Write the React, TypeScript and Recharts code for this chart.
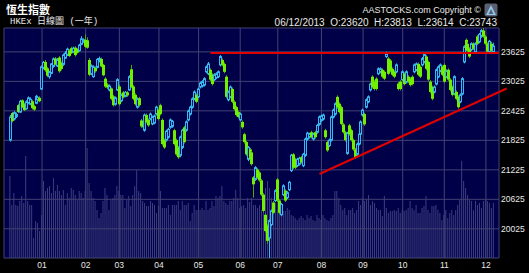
import React from 'react';
import { ComposedChart, Bar, XAxis, YAxis, CartesianGrid, ReferenceLine } from 'recharts';

// 恆生指數 日線 (06/12/2012 - 06/12/2013)
const opens = [
  21830, 22380, 22260, 22310, 22540, 22400, 22640, 22560, 22470, 22580, 22560, 22620, 22520, 22580, 22650, 22690,
  22870, 23290, 23420, 23290, 23120, 23190, 23330, 23490, 23340, 23510, 23400, 23370, 23500, 23560, 23650, 23700, 23620, 23710, 23680, 23650, 23780, 23830, 23870, 23860,
  23460, 23180, 23120, 23300, 23310, 23430, 23480, 23360, 23080, 22960, 22850, 22880, 22720, 22560, 22850, 22920, 22630, 22800, 22720, 22800,
  22850, 23270, 22920, 22750, 22500, 22680, 22230, 22170, 22030, 22340, 22240, 22260, 22160, 22180, 22360, 22440, 22540, 22240, 21830, 21830,
  21890, 22090, 22110, 22030, 21830, 21680, 21520, 21680, 22090, 22030, 22240, 22360, 22500, 22670, 22750, 22710, 22910, 22930, 22950, 23220,
  23180, 23260, 23160, 23060, 23100, 23120, 23360, 23460, 23380, 23120, 22650, 22710, 22870, 22610, 22500, 22400, 22240, 22200, 21950, 21790,
  21440, 21640, 21580, 21070, 21030, 21230, 21170, 21010, 20720, 20310, 20090, 19840, 20110, 20560, 20600, 21030, 20600, 20310, 20720, 20800,
  20660, 20820, 21210, 21540, 21440, 21310, 21340, 21480, 21310, 21520, 21850, 21890, 21990, 21850, 21990, 21990, 22150, 22230, 22260, 22030,
  21790, 21720, 21830, 22300, 22360, 22710, 22570, 22500, 22150, 21990, 21560, 22130, 22030, 21830, 21640, 21540, 21750, 21950, 22340, 22360,
  22500, 22610, 22850, 23120, 23020, 23080, 23180, 23220, 23260, 23220, 23530, 23490, 23450, 23280, 23220, 23220, 22980, 23020, 23060, 23180,
  23010, 23120, 23080, 23120, 23220, 23260, 23380, 23320, 23360, 23420, 23530, 23420, 23020, 22910, 22810, 22970, 23120, 23240, 23320, 23360,
  23120, 23260, 23060, 22910, 22770, 22810, 22710, 22610, 22770, 23420, 23870, 23790, 23690, 23670, 23790, 23630, 23940, 23830, 23940, 24060,
  23940, 23790, 23630, 23790, 23620,
];
const highs = [
  22340, 22400, 22420, 22390, 22570, 22650, 22660, 22590, 22640, 22720, 22700, 22650, 22550, 22750, 22730, 22720,
  23350, 23440, 23460, 23320, 23240, 23400, 23510, 23520, 23500, 23540, 23430, 23590, 23640, 23710, 23680, 23730, 23730, 23740, 23700, 23790, 23944, 23900, 23980, 23920,
  23500, 23370, 23350, 23330, 23500, 23530, 23510, 23380, 23110, 22990, 22960, 22900, 22750, 22720, 23090, 22960, 22780, 22830, 22830, 22830,
  23150, 23360, 22950, 22780, 22700, 22710, 22260, 22200, 22370, 22370, 22270, 22390, 22330, 22350, 22530, 22470, 22570, 22270, 21860, 22040,
  22080, 22270, 22240, 22060, 21860, 21710, 21920, 22060, 22120, 22230, 22450, 22530, 22700, 22840, 22780, 22900, 23020, 23050, 23110, 23350,
  23420, 23290, 23190, 23190, 23210, 23250, 23560, 23490, 23410, 23150, 22840, 22940, 22900, 22640, 22530, 22430, 22390, 22230, 21980, 21820,
  21710, 21670, 21610, 21100, 21300, 21260, 21200, 21040, 20750, 20340, 20120, 20220, 20420, 20590, 20830, 21060, 20630, 20550, 20930, 20830,
  20790, 21000, 21550, 21570, 21470, 21470, 21490, 21510, 21570, 21880, 22000, 21980, 22020, 21980, 22020, 22160, 22330, 22350, 22370, 22060,
  21820, 21860, 22330, 22470, 22600, 22740, 22600, 22530, 22180, 22020, 22000, 22160, 22060, 21860, 21670, 21780, 21980, 22230, 22470, 22390,
  22680, 22740, 23000, 23150, 23050, 23110, 23310, 23310, 23290, 23250, 23630, 23520, 23480, 23310, 23250, 23390, 23010, 23050, 23250, 23210,
  23250, 23150, 23110, 23150, 23390, 23410, 23410, 23350, 23520, 23600, 23560, 23450, 23050, 22940, 22940, 23290, 23350, 23390, 23350, 23390,
  23270, 23290, 23090, 22940, 23150, 22840, 22740, 22780, 23110, 23760, 23900, 23820, 23720, 23820, 23820, 23820, 23970, 24010, 24090, 24111,
  23970, 23820, 23870, 23830, 23813,
];
const lows = [
  21800, 22190, 22230, 22280, 22380, 22380, 22480, 22420, 22450, 22560, 22540, 22450, 22420, 22560, 22620, 22600,
  22850, 23270, 23220, 23110, 23080, 23170, 23300, 23350, 23320, 23200, 23250, 23340, 23480, 23540, 23520, 23580, 23600, 23530, 23590, 23630, 23760, 23810, 23700, 23690,
  23130, 23150, 23100, 23200, 23290, 23410, 23310, 23130, 22890, 22870, 22820, 22640, 22510, 22530, 22830, 22530, 22600, 22680, 22700, 22710,
  22830, 22890, 22640, 22530, 22470, 22510, 22080, 22060, 22000, 22170, 22100, 22230, 22130, 22150, 22330, 22230, 22330, 21720, 21650, 21800,
  21860, 22060, 22080, 21720, 21510, 21450, 21480, 21650, 21760, 22000, 22210, 22330, 22470, 22640, 22580, 22680, 22880, 22900, 22920, 23190,
  23150, 23030, 22940, 23030, 23070, 23090, 23330, 23330, 23190, 22680, 22620, 22680, 22580, 22430, 22310, 22270, 22210, 22060, 21760, 21510,
  21400, 21410, 21310, 20660, 21000, 21040, 20980, 20690, 20360, 19950, 19720, 19431, 20080, 20320, 20570, 20570, 20320, 20280, 20690, 20570,
  20630, 20790, 21180, 21240, 21240, 21280, 21310, 21350, 21280, 21490, 21820, 21860, 21860, 21820, 21860, 21960, 22120, 22200, 22230, 21860,
  21590, 21690, 21800, 22270, 22330, 22470, 22370, 22130, 21960, 21800, 21530, 21920, 21800, 21610, 21450, 21510, 21720, 21920, 22310, 22120,
  22470, 22580, 22820, 22880, 22840, 22840, 23150, 23190, 23090, 23050, 23500, 23150, 23210, 23130, 23090, 23190, 22840, 22840, 23030, 22940,
  22980, 22990, 22920, 22940, 23190, 23230, 23130, 23090, 23330, 23390, 23250, 23030, 22780, 22640, 22780, 22940, 23090, 23210, 23130, 22990,
  23090, 23030, 22820, 22720, 22740, 22640, 22470, 22580, 22740, 23390, 23640, 23620, 23500, 23640, 23660, 23600, 23760, 23800, 23910, 23910,
  23760, 23600, 23600, 23620, 23614,
];
const closes = [
  22300, 22220, 22390, 22350, 22400, 22620, 22500, 22440, 22610, 22690, 22660, 22480, 22450, 22720, 22700, 22620,
  23320, 23410, 23250, 23140, 23210, 23380, 23480, 23370, 23460, 23230, 23280, 23560, 23600, 23680, 23540, 23600, 23700, 23560, 23610, 23760, 23890, 23870, 23730, 23710,
  23160, 23340, 23320, 23230, 23470, 23490, 23330, 23150, 22920, 22900, 22930, 22670, 22540, 22690, 23060, 22560, 22750, 22700, 22800, 22740,
  23120, 22910, 22670, 22560, 22670, 22540, 22110, 22090, 22340, 22200, 22130, 22360, 22300, 22320, 22500, 22260, 22360, 21750, 21680, 22010,
  22050, 22240, 22210, 21750, 21540, 21480, 21890, 22030, 21790, 22200, 22420, 22500, 22670, 22810, 22610, 22870, 22990, 23020, 23080, 23320,
  23380, 23060, 22970, 23160, 23180, 23220, 23530, 23360, 23220, 22710, 22810, 22910, 22610, 22460, 22340, 22300, 22360, 22090, 21790, 21540,
  21680, 21440, 21340, 20930, 21270, 21070, 21010, 20720, 20390, 19980, 19780, 20190, 20390, 20350, 20800, 20600, 20350, 20520, 20900, 20600,
  20760, 20970, 21520, 21270, 21270, 21440, 21460, 21380, 21540, 21850, 21970, 21950, 21890, 21950, 21890, 22130, 22300, 22320, 22340, 21890,
  21620, 21830, 22300, 22440, 22570, 22500, 22400, 22160, 21990, 21830, 21970, 21950, 21830, 21640, 21480, 21750, 21950, 22200, 22440, 22150,
  22650, 22710, 22970, 22910, 22870, 22870, 23280, 23280, 23120, 23080, 23590, 23180, 23240, 23160, 23120, 23360, 22870, 22870, 23220, 22970,
  23220, 23020, 22950, 22970, 23360, 23380, 23160, 23120, 23490, 23570, 23280, 23060, 22810, 22670, 22910, 23260, 23320, 23360, 23160, 23020,
  23240, 23060, 22850, 22750, 23120, 22670, 22500, 22750, 23080, 23730, 23670, 23650, 23530, 23790, 23690, 23790, 23790, 23980, 24060, 23940,
  23790, 23630, 23840, 23650, 23743,
];
// 成交額 (bar height scale only)
const volumes = [
  820, 530, 650, 530, 520, 570, 620, 550, 1020, 570, 530, 530, 200, 370, 350, 270, 430, 770, 670, 700,
  720, 650, 800, 670, 730, 670, 630, 680, 530, 650, 600, 700, 680, 630, 580, 670, 650, 600, 670, 1100,
  750, 670, 600, 570, 480, 400, 450, 570, 700, 630, 480, 580, 600, 630, 720, 670, 630, 630, 500, 580,
  620, 520, 630, 720, 880, 670, 650, 570, 550, 520, 520, 570, 550, 530, 450, 520, 670, 500, 500, 500,
  530, 430, 530, 530, 530, 570, 480, 570, 530, 530, 550, 370, 450, 530, 480, 480, 480, 500, 480, 570,
  480, 500, 570, 520, 620, 600, 620, 720, 570, 550, 530, 570, 570, 600, 680, 600, 500, 520, 530, 500,
  600, 560,
  600, 530, 530, 500, 530, 480, 600, 700, 770, 700, 600, 500, 550, 480, 530, 480, 470, 470, 500, 480,
  430, 420, 400, 380, 400, 420, 400, 380, 430, 400, 420, 380, 370, 430, 400, 380, 430, 400, 380, 370,
  400, 430, 670, 670, 600, 530, 480, 500, 430, 480, 480, 500, 450, 480, 570, 530, 600, 570, 580, 630,
  530, 570,
  550, 500, 480, 480, 420, 620, 500, 450, 470, 470, 480, 470, 500, 450, 480, 470, 480, 500, 570, 500,
  480, 530, 450, 450, 500, 520, 620, 480, 450, 520, 520, 530, 480, 450, 380, 430, 480, 400, 450, 480,
  430, 480, 530, 580, 970, 770, 700, 630, 580, 570, 480, 570, 530, 550, 500, 570, 580, 570, 550, 500,
  550,
];

const monthTicks = [16, 38, 55, 75, 95, 116, 135, 157, 178, 198, 219, 240];
const monthLabels = ['01', '02', '03', '04', '05', '06', '07', '08', '09', '10', '11', '12'];
const priceTicks = [20025, 20625, 21225, 21825, 22425, 23025, 23625];
const priceDomain = [19431, 24111];
const dayDomain = [-3.2, 246.6];
const volDomain = [0, 2300];

const resistanceLevel = 23600;
const resistanceFrom = 101;
const trendFrom = { day: 156, value: 21140 };
const trendTo = { day: 250.5, value: 22880 };

const W = 529;
const H = 273;
const UP = '#38b8f0';
const DOWN = '#70f000';
const DOWN_WICK = '#48a800';
const NAVY = '#000048';
const GRID = '#424274';
const TXT = '#e8e8e8';

const data = opens.map((o, i) => ({
  day: i,
  open: o,
  high: highs[i],
  low: lows[i],
  close: closes[i],
  volume: volumes[i],
  range: [lows[i], highs[i]],
}));

function Candle(props: any) {
  const { x, y, width, height } = props;
  const p = props.payload || props;
  if (x == null || y == null) return null;
  const span = p.high - p.low || 1;
  const toY = (v: number) => y + ((p.high - v) / span) * height;
  const cx = Math.floor(x + width / 2) + 0.5;
  const up = p.close >= p.open;
  const top = toY(Math.max(p.open, p.close));
  const bot = toY(Math.min(p.open, p.close));
  const h = Math.max(bot - top, 1);
  return (
    <g>
      <line x1={cx} x2={cx} y1={y} y2={y + height} stroke={up ? UP : DOWN_WICK} strokeWidth={1} />
      {up ? (
        <rect x={cx - 1} y={top} width={2} height={h} fill="#001466" stroke={UP} strokeWidth={1} />
      ) : (
        <rect x={cx - 1.5} y={top} width={3} height={h} fill={DOWN} />
      )}
    </g>
  );
}

export default function App() {
  const tick = { fill: TXT, fontSize: 8.5, fontFamily: 'Liberation Sans, Arial, sans-serif' };
  return (
    <div style={{ position: 'absolute', left: 0, top: 0, width: W, height: H, background: '#000', overflow: 'hidden' }}>
      <div style={{ position: 'absolute', left: 0, top: 0 }}>
        <ComposedChart width={W} height={H} data={data} margin={{ top: 28, right: 30, bottom: 15, left: 4 }}>
          <CartesianGrid fill={NAVY} fillOpacity={1} stroke="none" horizontal={false} vertical={false} />
          <XAxis dataKey="day" type="number" domain={dayDomain} allowDataOverflow hide />
          <YAxis yAxisId="vol" domain={volDomain} allowDataOverflow hide />
          <Bar yAxisId="vol" dataKey="volume" fill="#8484c4" fillOpacity={0.45} barSize={1} isAnimationActive={false} />
        </ComposedChart>
      </div>
      <div style={{ position: 'absolute', left: 0, top: 0 }}>
        <ComposedChart width={W} height={H} data={data} margin={{ top: 28, right: 0, bottom: 0, left: 4 }}>
          <CartesianGrid yAxisId="price" stroke={GRID} strokeWidth={1} />
          <XAxis
            dataKey="day"
            type="number"
            domain={dayDomain}
            allowDataOverflow
            ticks={monthTicks}
            interval={0}
            tickFormatter={(v: number) => monthLabels[monthTicks.indexOf(v)] ?? ''}
            height={15}
            axisLine={false}
            tickLine={false}
            tickSize={0}
            tickMargin={4}
            tick={tick}
          />
          <YAxis
            yAxisId="price"
            orientation="right"
            domain={priceDomain}
            allowDataOverflow
            ticks={priceTicks}
            interval={0}
            width={30}
            axisLine={false}
            tickLine={false}
            tickSize={0}
            tickMargin={2}
            tick={{ ...tick, textAnchor: 'start' }}
          />
          <Bar yAxisId="price" dataKey="range" barSize={3} shape={<Candle />} isAnimationActive={false} />
          <ReferenceLine
            yAxisId="price"
            segment={[{ x: resistanceFrom, y: resistanceLevel }, { x: dayDomain[1], y: resistanceLevel }]}
            stroke="#e00000"
            strokeWidth={2}
            ifOverflow="visible"
          />
          <ReferenceLine
            yAxisId="price"
            segment={[{ x: trendFrom.day, y: trendFrom.value }, { x: trendTo.day, y: trendTo.value }]}
            stroke="#e00000"
            strokeWidth={2}
            ifOverflow="visible"
          />
        </ComposedChart>
      </div>
      <div style={{ position: 'absolute', left: 6, top: 3, color: '#fff', fontSize: 11, fontWeight: 'bold', fontFamily: '"Noto Sans CJK TC", sans-serif', lineHeight: '12px' }}>
        恆生指數
      </div>
      <div style={{ position: 'absolute', left: 10, top: 17, color: TXT, fontSize: 9, fontFamily: '"Liberation Mono", "Noto Sans CJK TC", monospace', lineHeight: '10px', whiteSpace: 'pre' }}>
        HKEx 日線圖 (一年)
      </div>
      <div style={{ position: 'absolute', right: 48, top: 5, color: TXT, fontSize: 9, fontFamily: '"Liberation Sans", Arial, sans-serif', lineHeight: '10px', whiteSpace: 'pre' }}>
        AASTOCKS.com Copyright ©
      </div>
      <svg style={{ position: 'absolute', left: 484, top: 3 }} width={14} height={14}>
        <rect x={0.5} y={0.5} width={13} height={13} rx={2} fill="#5a6070" />
        <polygon points="7,2 12,12 2,12" fill="#8fc8f0" />
        <polygon points="7,6 9.5,11 4.5,11" fill="#5a6070" />
      </svg>
      <div style={{ position: 'absolute', right: 32, top: 17, color: TXT, fontSize: 10, fontFamily: '"Liberation Sans", Arial, sans-serif', lineHeight: '11px', whiteSpace: 'pre' }}>
        {'06/12/2013  O:23620  H:23813  L:23614  C:23743'}
      </div>
    </div>
  );
}
